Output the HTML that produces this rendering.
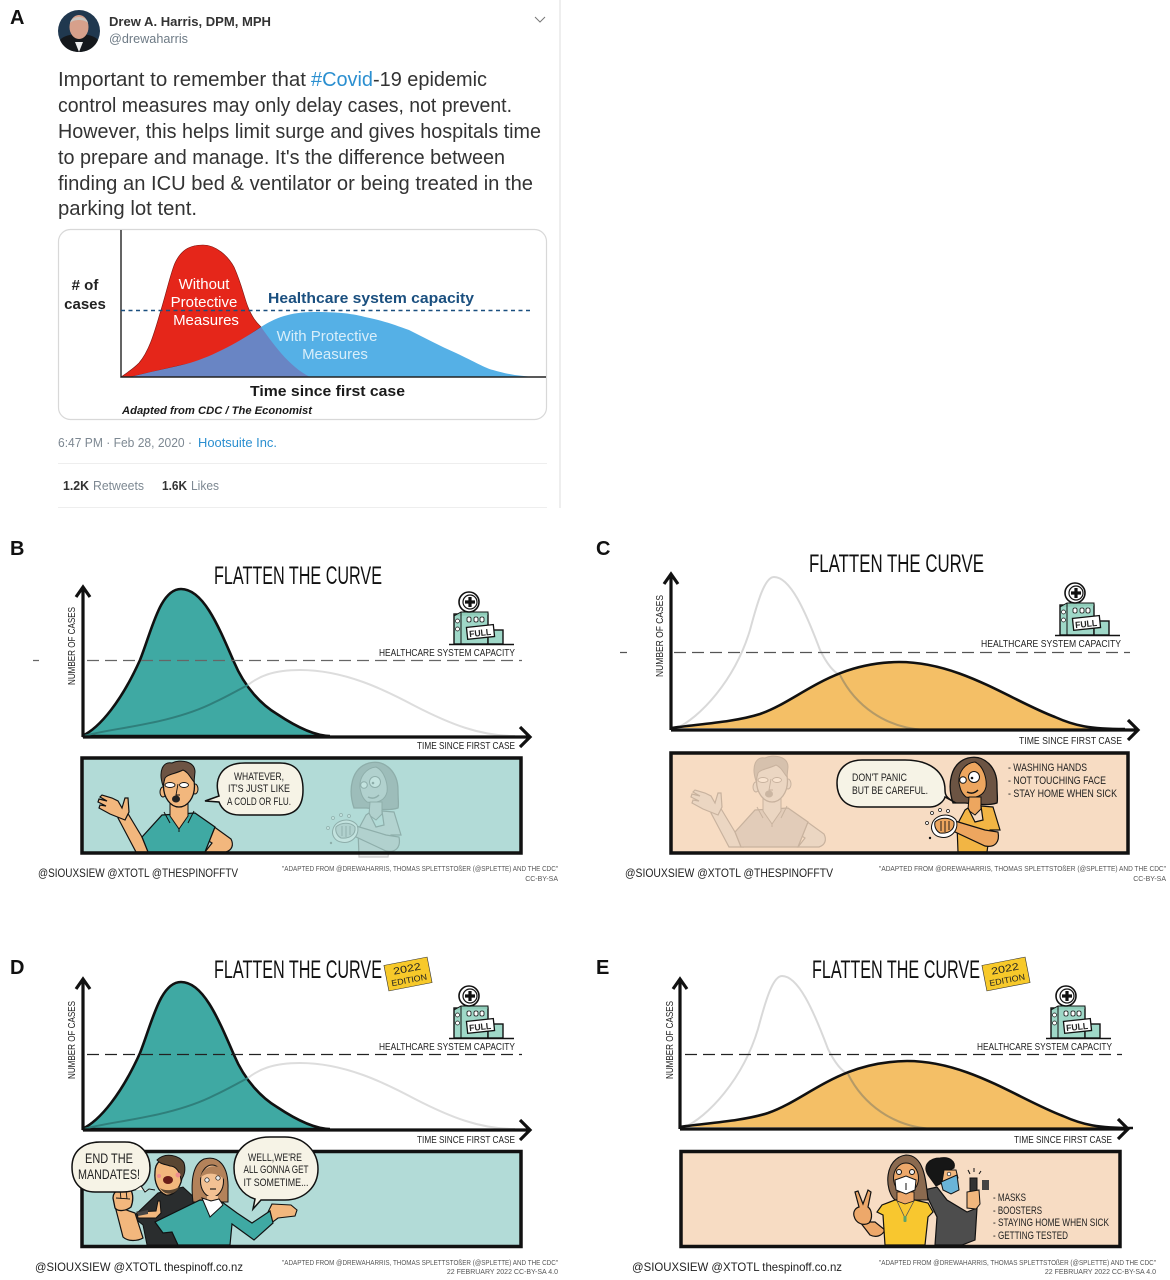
<!DOCTYPE html>
<html><head><meta charset="utf-8"><title>Flatten the curve</title>
<style>
html,body{margin:0;padding:0;background:#fff}
svg{display:block}
text{font-family:"Liberation Sans",sans-serif;fill:#222}
.p{font-size:20px;fill:#333}
.t{font-size:25px;fill:#111}
.s{font-size:10.5px;fill:#222}
.b{font-size:11px;fill:#222}
.c{font-size:7px;fill:#555}
.hd{font-size:12px;fill:#222}
.lab{font-size:20px;font-weight:bold;fill:#111}
</style></head><body>
<svg xmlns="http://www.w3.org/2000/svg" width="1170" height="1280" viewBox="0 0 1170 1280">
<defs>
<g id="hosp">
 <path d="M449 644.500H514" stroke="#111" stroke-width="1.6"/>
 <rect x="454" y="614" width="34" height="30" fill="#9fd8c8" stroke="#111" stroke-width="1.4"/>
 <rect x="488" y="630" width="15" height="14" fill="#9fd8c8" stroke="#111" stroke-width="1.4"/>
 <path d="M454 616l7 -4h27v3" fill="#8fcdb9" stroke="#111"/>
 <path d="M461 612v32" stroke="#111"/>
 <circle cx="469" cy="602" r="10" fill="#fff" stroke="#111" stroke-width="1.6"/>
 <circle cx="470" cy="602" r="7" fill="#fff" stroke="#111" stroke-width="1.2"/>
 <path d="M470 597v10M465 602h10" stroke="#111" stroke-width="3.200"/>
 <rect x="467" y="617" width="4" height="5" rx="1.500" fill="#fff" stroke="#111" stroke-width=".8"/>
 <rect x="474" y="617" width="4" height="5" rx="1.500" fill="#fff" stroke="#111" stroke-width=".8"/>
 <rect x="480" y="617" width="4" height="5" rx="1.500" fill="#fff" stroke="#111" stroke-width=".8"/>
 <circle cx="457.500" cy="621" r="2" fill="#fff" stroke="#111" stroke-width=".7"/>
 <circle cx="457.500" cy="629" r="2" fill="#fff" stroke="#111" stroke-width=".7"/>
 <rect x="467" y="626" width="27" height="12" fill="#fff" stroke="#111" stroke-width="1.3" transform="rotate(-6 480 632)"/>
</g>
<g id="teal">
 <path d="M82 736C100 728 122 700 140 660C152 630 160 589 181 589C203 589 218 625 234 662C245 688 262 705 277 714C295 726 315 736 330 736Z" fill="#3fa9a3" stroke="#111" stroke-width="2.600"/>
 <path d="M248 685C258 677 272 670 300 670C345 670 385 690 415 706C450 724 480 736 515 736" fill="none" stroke="#ddd" stroke-width="2"/>
 <path d="M84 736C110 728 170 725 215 702C228 696 238 690 248 685" fill="none" stroke="#2f7f7b" stroke-width="2"/>
</g>
<g id="orange">
 <path d="M675 729C700 718 735 680 750 630C758 600 765 577 774 577C790 577 805 610 820 650C826 662 833 672 840 675" fill="none" stroke="#d9d9d9" stroke-width="2"/>
 <path d="M671 728C700 724 735 722 760 714C800 700 830 663 899 662C960 662 1010 700 1055 717C1075 726 1090 729 1112 729Z" fill="#f4bf66"/>
 <path d="M671 728C700 724 735 722 760 714C800 700 830 663 899 662C960 662 1010 700 1055 717C1075 726 1090 729 1125 729" fill="none" stroke="#111" stroke-width="2.600"/>
 <path d="M840 675C855 705 885 728 925 730" fill="none" stroke="#b59a66" stroke-width="2"/>
</g>
<g id="man">
 <path d="M127 812L142 837L150 852H136L118 818Z" fill="#f2b77d" stroke="#111" stroke-width="1.200"/>
 <path d="M125 820L110 814L99 808L100 805L106 806L98 802L99 799L107 801L100 797L102 795L112 798L118 801L122 808L125 798L128 798L129 812Z" fill="#f2b77d" stroke="#111" stroke-width="1.200"/>
 <path d="M213 826L231 839C234 845 232 850 226 852H205L212 843L204 838Z" fill="#f2b77d" stroke="#111" stroke-width="1.200"/>
 <path d="M142 837L162 815L195 813L215 827L205 852H148Z" fill="#3fa9a3" stroke="#111" stroke-width="1.300"/>
 <path d="M170 802H188V816L179 829L170 816Z" fill="#f2b77d" stroke="#111"/>
 <path d="M164 812L170 823M194 811L188 823M179 829L179 832" stroke="#111" stroke-width="1" fill="none"/>
 <ellipse cx="163" cy="792" rx="3" ry="5" fill="#f2b77d" stroke="#111"/>
 <ellipse cx="195" cy="789" rx="3" ry="5" fill="#f2b77d" stroke="#111"/>
 <ellipse cx="179" cy="786" rx="15.500" ry="21" fill="#f2b77d" stroke="#111" stroke-width="1.300"/>
 <path d="M163 786C158 771 163 761 172 763C180 759 195 761 195 772L194 782C190 777 188 772 183 770C175 774 168 774 165 778Z" fill="#6d5444" stroke="#111"/>
 <ellipse cx="170" cy="785" rx="5" ry="2.500" fill="#fff" stroke="#111" stroke-width=".9"/>
 <ellipse cx="184" cy="785" rx="4.500" ry="2.500" fill="#fff" stroke="#111" stroke-width=".9"/>
 <path d="M178 784L176 795L180 795" fill="none" stroke="#111" stroke-width=".9"/>
 <ellipse cx="176" cy="799" rx="4" ry="3.500" fill="#222"/>
</g>
<g id="woman">
 <path d="M953 803C947 785 950 763 968 758C985 754 997 768 997 785C997 795 998 800 997 803C988 806 975 804 965 803Z" fill="#6c5443" stroke="#111" stroke-width="1.300"/>
 <path d="M959 783C958 772 965 763 975 762C984 766 987 780 986 787C984 796 975 799 966 797C961 793 960 788 959 783Z" fill="#eda65f" stroke="#111"/>
 <path d="M969 797H981V809L975 815L968 810Z" fill="#eda65f" stroke="#111"/>
 <path d="M965 810L968 808L975 822L983 820L981 806L993 807L1000 830H990L987 852H958L957 825Z" fill="#f2b544" stroke="#111" stroke-width="1.200"/>
 <path d="M955 821L985 830L998 832C1000 842 995 848 985 846L953 831Z" fill="#eda65f" stroke="#111" stroke-width="1.200"/>
 <path d="M932 824C935 814 950 812 956 820C960 830 950 840 940 837C934 836 930 830 932 824Z" fill="#fff" stroke="#111"/>
 <path d="M935 822C940 817 950 817 954 822C955 830 948 834 940 833C936 831 934 826 935 822Z" fill="#eda65f" stroke="#111"/>
 <path d="M941 821V831M945 821V832M949 821V830" stroke="#111" stroke-width=".9"/>
 <circle cx="927" cy="823" r="1.500" fill="#fff" stroke="#111" stroke-width=".7"/>
 <circle cx="932" cy="813" r="1.500" fill="#fff" stroke="#111" stroke-width=".7"/>
 <circle cx="940" cy="810" r="1.500" fill="#fff" stroke="#111" stroke-width=".7"/>
 <circle cx="948" cy="811" r="1.500" fill="#fff" stroke="#111" stroke-width=".7"/>
 <circle cx="930" cy="838" r="1.200" fill="#111"/>
 <circle cx="974" cy="777" r="5.500" fill="#fff" stroke="#111"/>
 <circle cx="972" cy="778" r="1.300" fill="#111"/>
 <circle cx="963" cy="780" r="3.300" fill="#fff" stroke="#111"/>
 <path d="M967 792C971 794 975 793 978 790" stroke="#111" stroke-width="1.500" fill="none"/>
</g>
</defs>
<rect width="1170" height="1280" fill="#fff"/>

<!-- A -->
<text class="lab" x="10" y="24">A</text>
<circle cx="79" cy="31" r="21" fill="#20384f"/>
<path d="M60 40C66 32 92 32 98 40C94 49 86 52 79 52C72 52 64 49 60 40Z" fill="#15181c"/>
<path d="M75 42L79 52L83 42Z" fill="#eee"/>
<ellipse cx="79" cy="27" rx="9.500" ry="12" fill="#d7a08b"/>
<path d="M70 23C71 15 87 15 88 23C84 19 74 19 70 23Z" fill="#c9c4bf"/>
<text x="109" y="26" font-size="13" font-weight="bold" textLength="162" lengthAdjust="spacingAndGlyphs" style="fill:#333">Drew A. Harris, DPM, MPH</text>
<text x="109" y="43" font-size="13" textLength="79" lengthAdjust="spacingAndGlyphs" style="fill:#6d7a85">@drewaharris</text>
<path d="M535 17l5 5l5 -5" fill="none" stroke="#777" stroke-width="1"/>
<path d="M560 0V508" stroke="#e8e8e8" stroke-width="1.500"/>
<text class="p" x="58" y="86" textLength="248" lengthAdjust="spacingAndGlyphs">Important to remember that</text>
<text class="p" x="311" y="86" textLength="62" lengthAdjust="spacingAndGlyphs" style="fill:#2b8fd0">#Covid</text>
<text class="p" x="373" y="86" textLength="114" lengthAdjust="spacingAndGlyphs">-19 epidemic</text>
<text class="p" x="58" y="112" textLength="454" lengthAdjust="spacingAndGlyphs">control measures may only delay cases, not prevent.</text>
<text class="p" x="58" y="138" textLength="483" lengthAdjust="spacingAndGlyphs">However, this helps limit surge and gives hospitals time</text>
<text class="p" x="58" y="164" textLength="447" lengthAdjust="spacingAndGlyphs">to prepare and manage. It's the difference between</text>
<text class="p" x="58" y="190" textLength="475" lengthAdjust="spacingAndGlyphs">finding an ICU bed &amp; ventilator or being treated in the</text>
<text class="p" x="58" y="215" textLength="139" lengthAdjust="spacingAndGlyphs">parking lot tent.</text>
<rect x="58.500" y="229.500" width="488" height="190" rx="12" fill="#fff" stroke="#d8d8d8" stroke-width="1.200"/>
<path d="M130 377C150 372 165 369 182 365C205 360 235 345 261 327C275 318 290 312 314 312C335 312 350 313 365 317C385 321 395 325 409 330C425 338 440 346 456 353C475 362 485 368 493 370C510 375 520 376 536 377Z" fill="#55b0e6"/>
<path d="M121 377C128 372 133 369 139 363C150 350 155 330 161 310C167 290 171 272 175 263C182 248 192 245 203 245C216 245 228 256 234 267C242 285 244 297 248 307C252 317 256 322 261 327L235 345C215 357 200 362 182 365L130 377Z" fill="#e5261a" stroke="#7a1410" stroke-width=".6"/>
<path d="M130 377C150 372 165 369 182 365C205 360 235 345 261 327C272 342 288 366 310 377Z" fill="#6985c4"/>
<path d="M121 230V377H546" fill="none" stroke="#222" stroke-width="1.400"/>
<path d="M121 310.500H532" stroke="#1a4f7f" stroke-width="1.600" stroke-dasharray="4 3.500"/>
<g text-anchor="middle">
<text x="204" y="289" style="fill:#fff;font-size:15px">Without</text>
<text x="204" y="307" style="fill:#fff;font-size:15px">Protective</text>
<text x="206" y="325" style="fill:#fff;font-size:15px">Measures</text>
<text x="327" y="341" style="fill:#d8eefa;font-size:15px">With Protective</text>
<text x="335" y="359" style="fill:#d8eefa;font-size:15px">Measures</text>
<text x="85" y="290" font-weight="bold" style="font-size:15px;fill:#222"># of</text>
<text x="85" y="309" font-weight="bold" style="font-size:15px;fill:#222">cases</text>
</g>
<text x="268" y="303" font-size="15" font-weight="bold" textLength="206" lengthAdjust="spacingAndGlyphs" style="fill:#1a4f7f">Healthcare system capacity</text>
<text x="250" y="396" font-size="15" font-weight="bold" textLength="155" lengthAdjust="spacingAndGlyphs" style="fill:#1a1a1a">Time since first case</text>
<text x="122" y="414" font-size="11" font-weight="bold" font-style="italic" textLength="190" lengthAdjust="spacingAndGlyphs" style="fill:#1a1a1a">Adapted from CDC / The Economist</text>
<text x="58" y="447" font-size="13" textLength="134" lengthAdjust="spacingAndGlyphs" style="fill:#7d8892">6:47 PM · Feb 28, 2020 ·</text>
<text x="198" y="447" font-size="13" textLength="79" lengthAdjust="spacingAndGlyphs" style="fill:#2b8fd0">Hootsuite Inc.</text>
<path d="M58 463.500H547M58 507.500H547" stroke="#eee" stroke-width="1"/>
<text x="63" y="490" font-size="13" font-weight="bold" textLength="26" lengthAdjust="spacingAndGlyphs" style="fill:#333">1.2K</text>
<text x="93" y="490" font-size="13" textLength="51" lengthAdjust="spacingAndGlyphs" style="fill:#7d8892">Retweets</text>
<text x="162" y="490" font-size="13" font-weight="bold" textLength="25" lengthAdjust="spacingAndGlyphs" style="fill:#333">1.6K</text>
<text x="191" y="490" font-size="13" textLength="28" lengthAdjust="spacingAndGlyphs" style="fill:#7d8892">Likes</text>

<!-- B -->
<text class="lab" x="10" y="555">B</text>
<text class="t" x="214" y="584" textLength="168" lengthAdjust="spacingAndGlyphs">FLATTEN THE CURVE</text>
<use href="#teal"/>
<path d="M33 660.500H522" stroke="#666" stroke-width="1.200" stroke-dasharray="12 6"/>
<rect x="39" y="655" width="43" height="12" fill="#fff"/>
<path d="M83 737V588M76 597L83 587L90 597M83 737H528M520 727L530 737L520 747" fill="none" stroke="#111" stroke-width="3.200"/>
<use href="#hosp"/>
<text x="469" y="636" font-size="9" font-weight="bold" textLength="22" lengthAdjust="spacingAndGlyphs" transform="rotate(-6 480 632)">FULL</text>
<text class="s" x="379" y="656" textLength="136" lengthAdjust="spacingAndGlyphs">HEALTHCARE SYSTEM CAPACITY</text>
<text class="s" x="417" y="749" textLength="98" lengthAdjust="spacingAndGlyphs">TIME SINCE FIRST CASE</text>
<text class="s" transform="translate(75 685) rotate(-90)" textLength="78" lengthAdjust="spacingAndGlyphs">NUMBER OF CASES</text>
<rect x="82" y="758" width="439" height="95" fill="#b2dbd7"/>
<use href="#man"/>
<use href="#woman" transform="translate(-599 5)" style="opacity:.22;filter:grayscale(1)"/>
<rect x="82" y="758" width="439" height="95" fill="none" stroke="#111" stroke-width="3.500"/>
<path d="M205 801L219 796C214 780 220 763 245 763H280C298 763 303 775 303 790C303 806 296 815 280 815H240C228 815 222 810 219 802Z" fill="#f6f3e6" stroke="#111" stroke-width="1.500"/>
<g text-anchor="middle">
<text class="b" x="259" y="780" textLength="50" lengthAdjust="spacingAndGlyphs">WHATEVER,</text>
<text class="b" x="259" y="792" textLength="62" lengthAdjust="spacingAndGlyphs">IT'S JUST LIKE</text>
<text class="b" x="259" y="805" textLength="64" lengthAdjust="spacingAndGlyphs">A COLD OR FLU.</text>
</g>
<text class="hd" x="38" y="877" textLength="200" lengthAdjust="spacingAndGlyphs">@SIOUXSIEW @XTOTL @THESPINOFFTV</text>
<text class="c" x="282" y="871" textLength="276" lengthAdjust="spacingAndGlyphs">"ADAPTED FROM @DREWAHARRIS, THOMAS SPLETTSTOßER (@SPLETTE) AND THE CDC"</text>
<text class="c" x="558" y="881" text-anchor="end">CC-BY-SA</text>

<!-- C -->
<text class="lab" x="596" y="555">C</text>
<text class="t" x="809" y="572" textLength="175" lengthAdjust="spacingAndGlyphs">FLATTEN THE CURVE</text>
<use href="#orange"/>
<path d="M620 652.500H1130" stroke="#555" stroke-width="1.200" stroke-dasharray="12 6"/>
<rect x="627" y="647" width="42" height="12" fill="#fff"/>
<path d="M671 730V575M664 584L671 574L678 584M671 730H1137M1128 720L1138 730L1128 740" fill="none" stroke="#111" stroke-width="3.200"/>
<use href="#hosp" transform="translate(606 -9)"/>
<text x="1075" y="627" font-size="9" font-weight="bold" textLength="22" lengthAdjust="spacingAndGlyphs" transform="rotate(-6 1086 623)">FULL</text>
<text class="s" x="981" y="647" textLength="140" lengthAdjust="spacingAndGlyphs">HEALTHCARE SYSTEM CAPACITY</text>
<text class="s" x="1019" y="744" textLength="103" lengthAdjust="spacingAndGlyphs">TIME SINCE FIRST CASE</text>
<text class="s" transform="translate(663 677) rotate(-90)" textLength="82" lengthAdjust="spacingAndGlyphs">NUMBER OF CASES</text>
<rect x="671" y="753" width="457" height="100" fill="#f7dcc3"/>
<use href="#man" transform="translate(593 -5)" style="opacity:.2;filter:grayscale(1)"/>
<use href="#woman"/>
<rect x="671" y="753" width="457" height="100" fill="none" stroke="#111" stroke-width="3.500"/>
<path d="M956 803L945 797C944 801 938 807 930 807H860C845 807 837 797 837 783C837 768 848 760 862 760H905C930 760 945 772 945 790C945 795 946 798 956 803Z" fill="#f6f3e6" stroke="#111" stroke-width="1.500"/>
<text class="b" x="852" y="781" textLength="55" lengthAdjust="spacingAndGlyphs">DON'T PANIC</text>
<text class="b" x="852" y="794" textLength="76" lengthAdjust="spacingAndGlyphs">BUT BE CAREFUL.</text>
<text class="b" x="1008" y="771" textLength="79" lengthAdjust="spacingAndGlyphs">- WASHING HANDS</text>
<text class="b" x="1008" y="784" textLength="98" lengthAdjust="spacingAndGlyphs">- NOT TOUCHING FACE</text>
<text class="b" x="1008" y="797" textLength="109" lengthAdjust="spacingAndGlyphs">- STAY HOME WHEN SICK</text>
<text class="hd" x="625" y="877" textLength="208" lengthAdjust="spacingAndGlyphs">@SIOUXSIEW @XTOTL @THESPINOFFTV</text>
<text class="c" x="879" y="871" textLength="287" lengthAdjust="spacingAndGlyphs">"ADAPTED FROM @DREWAHARRIS, THOMAS SPLETTSTOßER (@SPLETTE) AND THE CDC"</text>
<text class="c" x="1166" y="881" text-anchor="end">CC-BY-SA</text>

<!-- D -->
<text class="lab" x="10" y="974">D</text>
<text class="t" x="214" y="978" textLength="168" lengthAdjust="spacingAndGlyphs">FLATTEN THE CURVE</text>
<use href="#teal" transform="translate(0 393)"/>
<path d="M87 1054.500H522" stroke="#222" stroke-width="1.200" stroke-dasharray="12 6"/>
<path d="M83 1130V980M76 989L83 979L90 989M83 1130H528M520 1120L530 1130L520 1140" fill="none" stroke="#111" stroke-width="3.200"/>
<g transform="rotate(-11 408 974)"><rect x="386" y="961" width="44" height="26" fill="#f7c92a" stroke="#333" stroke-width=".6"/>
<text x="408" y="972" text-anchor="middle" font-size="10" textLength="28" lengthAdjust="spacingAndGlyphs">2022</text>
<text x="408" y="983" text-anchor="middle" font-size="8.500" textLength="36" lengthAdjust="spacingAndGlyphs">EDITION</text></g>
<use href="#hosp" transform="translate(0 394)"/>
<text x="469" y="1030" font-size="9" font-weight="bold" textLength="22" lengthAdjust="spacingAndGlyphs" transform="rotate(-6 480 1026)">FULL</text>
<text class="s" x="379" y="1050" textLength="136" lengthAdjust="spacingAndGlyphs">HEALTHCARE SYSTEM CAPACITY</text>
<text class="s" x="417" y="1143" textLength="98" lengthAdjust="spacingAndGlyphs">TIME SINCE FIRST CASE</text>
<text class="s" transform="translate(75 1079) rotate(-90)" textLength="78" lengthAdjust="spacingAndGlyphs">NUMBER OF CASES</text>
<rect x="82" y="1151.500" width="439" height="95" fill="#b2dbd7" stroke="#111" stroke-width="3.500"/>
<!-- D figures -->
<path d="M133 1217L158 1193L183 1187L197 1200L190 1245H147L143 1225Z" fill="#2a2d2e" stroke="#111"/>
<path d="M115 1206L123 1237C128 1242 138 1241 143 1238L135 1213Z" fill="#f2b77d" stroke="#111" stroke-width="1.200"/>
<path d="M113 1198C113 1190 122 1187 130 1189C134 1194 133 1202 131 1207C126 1211 118 1212 115 1208Z" fill="#f2b77d" stroke="#111" stroke-width="1.300"/>
<path d="M120 1190L121 1199M126 1190L127 1199M116 1198L130 1199" stroke="#111" stroke-width=".9" fill="none"/>
<path d="M137 1212L156 1211L158 1201L160 1201L161 1213L156 1218L138 1218Z" fill="#f2b77d" stroke="#111"/>
<path d="M138 1212l10 -2v4l-10 2Z" fill="#444"/>
<path d="M155 1172C155 1162 162 1158 170 1158C178 1160 182 1168 182 1178C180 1190 172 1196 166 1195C158 1192 154 1182 155 1172Z" fill="#f2b77d" stroke="#111" stroke-width="1.300"/>
<path d="M157 1160C165 1152 180 1155 184 1163C186 1170 184 1176 181 1180C180 1172 176 1166 170 1166C164 1164 160 1164 157 1160Z" fill="#5a4632" stroke="#111"/>
<path d="M160 1188C165 1196 175 1196 180 1186C176 1190 165 1192 160 1188Z" fill="#5a4632"/>
<ellipse cx="168" cy="1180" rx="5" ry="4" fill="#6a1c18"/>
<circle cx="159" cy="1176" r="2" fill="#ee8d8d"/><circle cx="178" cy="1175" r="2.500" fill="#ee8d8d"/>
<path d="M193 1202C191 1185 191 1165 204 1159C218 1155 229 1165 228 1190L228 1202Z" fill="#b3825a" stroke="#111"/>
<ellipse cx="212" cy="1181" rx="11.500" ry="16" fill="#f3c193" stroke="#111"/>
<path d="M200 1178C203 1167 212 1164 222 1168C223 1172 224 1176 224 1179C216 1172 206 1172 200 1178Z" fill="#b3825a"/>
<path d="M207 1196H218V1204H207Z" fill="#f3c193"/>
<circle cx="207" cy="1180" r="2.200" fill="#eee" stroke="#111" stroke-width=".7"/>
<circle cx="218" cy="1178" r="2.200" fill="#eee" stroke="#111" stroke-width=".7"/>
<path d="M210 1189h6" stroke="#111" stroke-width="1.100"/>
<path d="M272 1204L291 1205L297 1210L295 1216L278 1218L270 1224L268 1212Z" fill="#f2b77d" stroke="#111" stroke-width="1.100"/>
<path d="M200 1200L222 1202L237 1213L252 1223L270 1211L273 1223L254 1240L232 1224L230 1245H178L172 1232L163 1233L155 1222Z" fill="#3fa9a3" stroke="#111" stroke-width="1.200"/>
<path d="M202 1198L210 1217L223 1205L219 1199L211 1201Z" fill="#fff" stroke="#111"/>
<path d="M72 1167C72 1150 85 1142 100 1142H125C142 1142 150 1155 150 1168C150 1182 140 1192 122 1192H95C80 1192 72 1182 72 1167Z" fill="#f6f3e6" stroke="#111" stroke-width="1.500"/>
<path d="M135 1190L141 1186L145 1192L149 1189L155 1190" fill="#f6f3e6" stroke="#111"/>
<path d="M234 1168C234 1150 248 1137 270 1137H285C305 1137 318 1152 318 1169C318 1187 304 1200 285 1200H261L253 1209L255 1199C242 1195 234 1183 234 1168Z" fill="#f6f3e6" stroke="#111" stroke-width="1.500"/>
<g text-anchor="middle">
<text x="109" y="1163" font-size="14" textLength="48" lengthAdjust="spacingAndGlyphs">END THE</text>
<text x="109" y="1179" font-size="14" textLength="62" lengthAdjust="spacingAndGlyphs">MANDATES!</text>
<text class="b" x="275" y="1161" textLength="54" lengthAdjust="spacingAndGlyphs">WELL,WE'RE</text>
<text class="b" x="276" y="1173" textLength="65" lengthAdjust="spacingAndGlyphs">ALL GONNA GET</text>
<text class="b" x="276" y="1186" textLength="65" lengthAdjust="spacingAndGlyphs">IT SOMETIME...</text>
</g>
<text class="hd" x="35" y="1271" textLength="208" lengthAdjust="spacingAndGlyphs">@SIOUXSIEW @XTOTL thespinoff.co.nz</text>
<text class="c" x="282" y="1265" textLength="276" lengthAdjust="spacingAndGlyphs">"ADAPTED FROM @DREWAHARRIS, THOMAS SPLETTSTOßER (@SPLETTE) AND THE CDC"</text>
<text class="c" x="558" y="1274" text-anchor="end">22 FEBRUARY 2022   CC-BY-SA 4.0</text>

<!-- E -->
<text class="lab" x="596" y="974">E</text>
<text class="t" x="812" y="978" textLength="168" lengthAdjust="spacingAndGlyphs">FLATTEN THE CURVE</text>
<use href="#orange" transform="translate(8 399)"/>
<path d="M685 1054.500H1122" stroke="#222" stroke-width="1.200" stroke-dasharray="12 6"/>
<path d="M680 1129V980M673 989L680 979L687 989M680 1129H1126M1118 1119L1128 1129L1118 1139" fill="none" stroke="#111" stroke-width="3.200"/>
<g transform="rotate(-11 1006 974)"><rect x="984" y="961" width="44" height="26" fill="#f7c92a" stroke="#333" stroke-width=".6"/>
<text x="1006" y="972" text-anchor="middle" font-size="10" textLength="28" lengthAdjust="spacingAndGlyphs">2022</text>
<text x="1006" y="983" text-anchor="middle" font-size="8.500" textLength="36" lengthAdjust="spacingAndGlyphs">EDITION</text></g>
<use href="#hosp" transform="translate(597 394)"/>
<text x="1066" y="1030" font-size="9" font-weight="bold" textLength="22" lengthAdjust="spacingAndGlyphs" transform="rotate(-6 1077 1026)">FULL</text>
<text class="s" x="977" y="1050" textLength="135" lengthAdjust="spacingAndGlyphs">HEALTHCARE SYSTEM CAPACITY</text>
<text class="s" x="1014" y="1143" textLength="98" lengthAdjust="spacingAndGlyphs">TIME SINCE FIRST CASE</text>
<text class="s" transform="translate(673 1079) rotate(-90)" textLength="78" lengthAdjust="spacingAndGlyphs">NUMBER OF CASES</text>
<rect x="681" y="1151.500" width="439" height="95" fill="#f7dcc3" stroke="#111" stroke-width="3.500"/>
<!-- E figures -->
<path d="M924 1190L937 1187L947 1200L967 1212L977 1208L975 1240L962 1245H935L937 1217Z" fill="#4d4d4d" stroke="#111" stroke-width="1.200"/>
<path d="M928 1175C922 1165 930 1158 940 1158C950 1156 956 1162 954 1168L945 1172L944 1182L936 1186Z" fill="#161616" stroke="#111"/>
<path d="M944 1170L956 1170L958 1178L950 1184L942 1182Z" fill="#f2b77d" stroke="#111"/>
<path d="M941 1182L957 1175L959 1190L951 1194L943 1190Z" fill="#6ab4d8" stroke="#111"/>
<circle cx="949" cy="1174" r="1.800" fill="#fff" stroke="#111" stroke-width=".7"/>
<rect x="970" y="1178" width="7" height="14" fill="#333" stroke="#111"/>
<path d="M967 1192L979 1190L980 1204L976 1209L967 1208Z" fill="#f2b77d" stroke="#111"/>
<path d="M968 1170l2 4M974 1168v4M981 1171l-2 3" stroke="#111"/>
<rect x="982" y="1180" width="7" height="10" fill="#444"/>
<path d="M860 1222L870 1235C876 1238 882 1236 885 1230L875 1222Z" fill="#eda86a" stroke="#111" stroke-width="1.200"/>
<path d="M855 1192L858 1191L863 1204L868 1190L871 1192L868 1207C872 1210 873 1218 869 1223C864 1226 856 1224 854 1216C853 1212 855 1208 859 1207Z" fill="#eda86a" stroke="#111" stroke-width="1.200"/>
<path d="M895 1200C884 1190 884 1158 906 1155C924 1155 926 1180 928 1200Z" fill="#8b6a4f" stroke="#111" stroke-width="1.100"/>
<ellipse cx="906" cy="1178" rx="12.500" ry="15" fill="#eda86a" stroke="#111"/>
<path d="M895 1200L915 1200L928 1203L933 1212L928 1217L925 1245H885L883 1215L877 1212L882 1205Z" fill="#f8c72f" stroke="#111" stroke-width="1.200"/>
<path d="M897 1192H914V1201L905 1204L897 1201Z" fill="#eda86a" stroke="#111" stroke-width=".8"/>
<path d="M897 1201L905 1218L914 1201" fill="none" stroke="#555" stroke-width=".8"/>
<rect x="903.500" y="1216" width="3" height="6" rx="1" fill="#5da36b"/>
<path d="M895 1180L906 1176L916 1180L915 1190L906 1194L896 1190Z" fill="#fff" stroke="#111"/>
<path d="M906 1183v7" stroke="#111"/>
<circle cx="899" cy="1172" r="2.500" fill="#eee" stroke="#111"/>
<circle cx="912" cy="1172" r="2.500" fill="#eee" stroke="#111"/>
<text class="b" x="993" y="1201" textLength="33" lengthAdjust="spacingAndGlyphs">- MASKS</text>
<text class="b" x="993" y="1214" textLength="49" lengthAdjust="spacingAndGlyphs">- BOOSTERS</text>
<text class="b" x="993" y="1226" textLength="116" lengthAdjust="spacingAndGlyphs">- STAYING HOME WHEN SICK</text>
<text class="b" x="993" y="1239" textLength="75" lengthAdjust="spacingAndGlyphs">- GETTING TESTED</text>
<text class="hd" x="632" y="1271" textLength="210" lengthAdjust="spacingAndGlyphs">@SIOUXSIEW @XTOTL thespinoff.co.nz</text>
<text class="c" x="879" y="1265" textLength="277" lengthAdjust="spacingAndGlyphs">"ADAPTED FROM @DREWAHARRIS, THOMAS SPLETTSTOßER (@SPLETTE) AND THE CDC"</text>
<text class="c" x="1156" y="1274" text-anchor="end">22 FEBRUARY 2022   CC-BY-SA 4.0</text>
</svg>
</body></html>
